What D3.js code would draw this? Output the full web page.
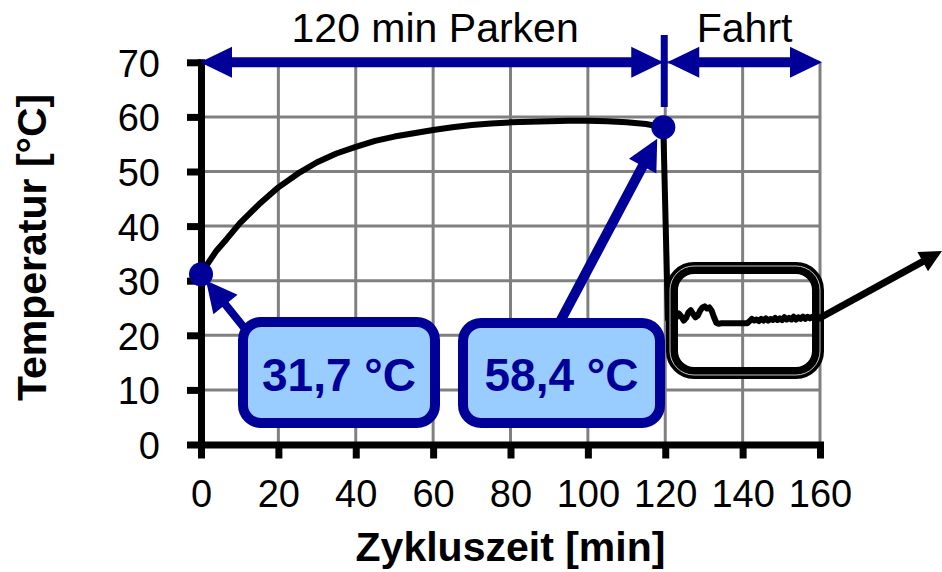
<!DOCTYPE html>
<html>
<head>
<meta charset="utf-8">
<script src="https://cdn.jsdelivr.net/npm/d3@7"></script>
<style>
  html, body { margin: 0; padding: 0; background: #fff; }
  svg { display: block; }
  text { font-family: Arial, "Liberation Sans", sans-serif; }
</style>
</head>
<body>
<svg id="chart" width="942" height="572"></svg>
<script>
// ---------------- data ----------------
const parkMinutes = [0, 2, 4, 6.6, 10, 15, 20, 25, 30, 35, 40, 45, 50, 55, 60, 65, 70, 75, 80, 85, 90, 95, 100, 105, 110, 115, 119.5];
const parkTemps   = [31.2, 33.4, 35.5, 37.6, 40.5, 44.0, 47.1, 49.6, 51.7, 53.3, 54.5, 55.6, 56.4, 57.0, 57.6, 58.1, 58.5, 58.8, 59.0, 59.1, 59.2, 59.3, 59.3, 59.2, 59.0, 58.7, 58.1];

const driveMinutes = [120.7, 121.5, 122.2, 122.9, 123.5, 124.1, 124.8, 125.4, 126.0, 126.6, 127.2, 127.8, 128.4, 129.0, 129.6, 130.2, 130.8, 131.4, 132.0, 132.6, 133.2, 133.8, 134.5, 136.0, 138.0, 140.0, 141.2, 141.8, 142.4, 143.0, 143.6, 144.2, 144.8, 145.4, 146.0, 146.6, 147.2, 147.8, 148.4, 149.0, 149.6, 150.2, 150.8, 151.4, 152.0, 152.6, 153.2, 153.8, 154.4, 155.0, 155.6, 156.2, 156.8, 157.4, 158.0, 158.5];
const driveTemps   = [23.0, 23.4, 22.9, 23.3, 24.0, 23.5, 22.7, 23.2, 24.2, 24.6, 23.9, 23.3, 23.6, 24.5, 25.1, 25.3, 24.9, 25.1, 24.5, 23.3, 22.3, 22.1, 22.2, 22.2, 22.2, 22.2, 22.2, 22.6, 23.0, 22.7, 22.9, 22.6, 23.0, 22.7, 23.1, 22.7, 23.0, 22.8, 23.2, 22.8, 23.1, 22.8, 23.3, 22.9, 23.2, 22.9, 23.4, 22.9, 23.3, 23.0, 23.4, 23.0, 23.4, 23.1, 23.4, 23.2];

const markerMinutes = [0, 119.5];
const markerTemps   = [31.2, 58.1];
const calloutLabels = ["31,7 °C", "58,4 °C"];

const xTicks = [0, 20, 40, 60, 80, 100, 120, 140, 160];
const yTicks = [0, 10, 20, 30, 40, 50, 60, 70];

const phaseLabels = ["120 min Parken", "Fahrt"];
const phaseBounds = [0, 120, 160];

const xTitle = "Zykluszeit [min]";
const yTitle = "Temperatur [°C]";

// ---------------- setup ----------------
const BLUE = "#000099";
const FILL = "#99CCFF";
const GRID = "#808080";

const svg = d3.select("#chart");
const x = d3.scaleLinear().domain([0, 160]).range([201, 820]);
const y = d3.scaleLinear().domain([0, 70]).range([444.5, 62.3]);

// grid
const grid = svg.append("g");
grid.selectAll("line.v").data(xTicks.filter(d => d > 0)).join("line")
  .attr("x1", d => x(d)).attr("x2", d => x(d))
  .attr("y1", y(0)).attr("y2", y(70))
  .attr("stroke", GRID).attr("stroke-width", 3);
grid.selectAll("line.h").data(yTicks.filter(d => d > 0)).join("line")
  .attr("x1", x(0)).attr("x2", x(160))
  .attr("y1", d => y(d)).attr("y2", d => y(d))
  .attr("stroke", GRID).attr("stroke-width", 3);

// axes
const yAxis = d3.axisLeft(y).tickValues(yTicks).tickSize(14).tickSizeOuter(0).tickPadding(27);
const xAxis = d3.axisBottom(x).tickValues(xTicks).tickSize(14).tickSizeOuter(0).tickPadding(22);

const gy = svg.append("g").attr("transform", `translate(${x(0)},0)`).call(yAxis);
const gx = svg.append("g").attr("transform", `translate(0,${y(0)})`).call(xAxis);

[gx, gy].forEach(g => {
  g.select(".domain").attr("stroke", "#000").attr("stroke-width", 7).attr("stroke-linecap", "square");
  g.selectAll(".tick line").attr("stroke", "#000").attr("stroke-width", 7);
  g.selectAll(".tick text").attr("fill", "#000").attr("font-size", 38)
    .attr("font-family", 'Arial, "Liberation Sans", sans-serif');
});
gy.selectAll(".tick text").attr("dy", "0.37em");
gx.selectAll(".tick text").attr("dy", "0.71em");

// axis titles
svg.append("text").attr("x", (x(0) + x(160)) / 2).attr("y", 561)
  .attr("text-anchor", "middle").attr("font-size", 41).attr("font-weight", "bold")
  .text(xTitle);
svg.append("text")
  .attr("transform", `translate(46,${(y(0) + y(70)) / 2 - 6}) rotate(-90)`)
  .attr("text-anchor", "middle").attr("font-size", 41).attr("font-weight", "bold")
  .text(yTitle);

// data line
const line = d3.line().x(d => x(d[0])).y(d => y(d[1]));
const allPts = parkMinutes.map((t, i) => [t, parkTemps[i]])
  .concat(driveMinutes.map((t, i) => [t, driveTemps[i]]));
svg.append("path").datum(allPts).attr("d", line)
  .attr("fill", "none").attr("stroke", "#000").attr("stroke-width", 6)
  .attr("stroke-linejoin", "round").attr("stroke-linecap", "round");

// black rounded box around drive section
svg.append("rect").attr("x", 672).attr("y", 268).attr("width", 146).attr("height", 105)
  .attr("rx", 22).attr("fill", "none").attr("stroke", "#000").attr("stroke-width", 12);
svg.append("rect").attr("x", 670).attr("y", 266).attr("width", 150).attr("height", 109)
  .attr("rx", 24).attr("fill", "none").attr("stroke", "#fff").attr("stroke-width", 0.9)
  .attr("stroke-opacity", 0.85);

// arrow helper
function arrow(x1, y1, x2, y2, color, width, headLen, headHalf) {
  const dx = x2 - x1, dy = y2 - y1, L = Math.hypot(dx, dy);
  const ux = dx / L, uy = dy / L;
  const bx = x2 - ux * headLen, by = y2 - uy * headLen;
  svg.append("line").attr("x1", x1).attr("y1", y1).attr("x2", bx + ux * 2).attr("y2", by + uy * 2)
    .attr("stroke", color).attr("stroke-width", width);
  svg.append("polygon")
    .attr("points", [[x2, y2], [bx - uy * headHalf, by + ux * headHalf], [bx + uy * headHalf, by - ux * headHalf]].map(p => p.join(",")).join(" "))
    .attr("fill", color);
}

// black arrow pointing out
arrow(818, 319, 942, 251, "#000", 7, 22, 11);

// top phase arrows
const ya = y(70);
function dblArrow(xa, xb) {
  const hl = 32, hh = 15.5;
  svg.append("line").attr("x1", xa + hl - 1).attr("x2", xb - hl + 1).attr("y1", ya).attr("y2", ya)
    .attr("stroke", BLUE).attr("stroke-width", 10);
  svg.append("polygon").attr("points", `${xa},${ya} ${xa + hl},${ya - hh} ${xa + hl},${ya + hh}`).attr("fill", BLUE);
  svg.append("polygon").attr("points", `${xb},${ya} ${xb - hl},${ya - hh} ${xb - hl},${ya + hh}`).attr("fill", BLUE);
}
dblArrow(x(phaseBounds[0]) - 1, x(phaseBounds[1]) - 2);
dblArrow(x(phaseBounds[1]) + 2, x(phaseBounds[2]) + 2);
svg.append("line").attr("x1", x(phaseBounds[1]) - 1).attr("x2", x(phaseBounds[1]) - 1)
  .attr("y1", 35).attr("y2", 107).attr("stroke", BLUE).attr("stroke-width", 7);

phaseLabels.forEach((lab, i) => {
  svg.append("text").attr("x", x((phaseBounds[i] + phaseBounds[i + 1]) / 2) + 2)
    .attr("y", 42).attr("text-anchor", "middle").attr("font-size", 41).attr("fill", "#000")
    .text(lab);
});

// callouts
const boxes = [
  { x: 243, y: 322, w: 192, h: 101, sx: 250, sy: 335, lw: 8 },
  { x: 463, y: 323, w: 197, h: 100, sx: 553, sy: 335, lw: 10 }
];
boxes.forEach((b, i) => {
  const mx = x(markerMinutes[i]), my = y(markerTemps[i]);
  const dx = b.sx - mx, dy = b.sy - my, L = Math.hypot(dx, dy);
  const gap = i === 0 ? 8 : 13;
  arrow(b.sx, b.sy, mx + dx / L * gap, my + dy / L * gap, BLUE, b.lw, 31, 15.5);
});
boxes.forEach((b, i) => {
  svg.append("rect").attr("x", b.x).attr("y", b.y).attr("width", b.w).attr("height", b.h)
    .attr("rx", 18).attr("fill", FILL).attr("stroke", BLUE).attr("stroke-width", 10);
  svg.append("text").attr("x", b.x + b.w / 2).attr("y", 391)
    .attr("text-anchor", "middle").attr("font-size", 46).attr("font-weight", "bold").attr("fill", BLUE)
    .text(calloutLabels[i]);
});

// markers
svg.selectAll("circle.m").data(markerMinutes).join("circle")
  .attr("cx", d => x(d)).attr("cy", (d, i) => y(markerTemps[i])).attr("r", 12)
  .attr("fill", BLUE);
</script>
</body>
</html>
